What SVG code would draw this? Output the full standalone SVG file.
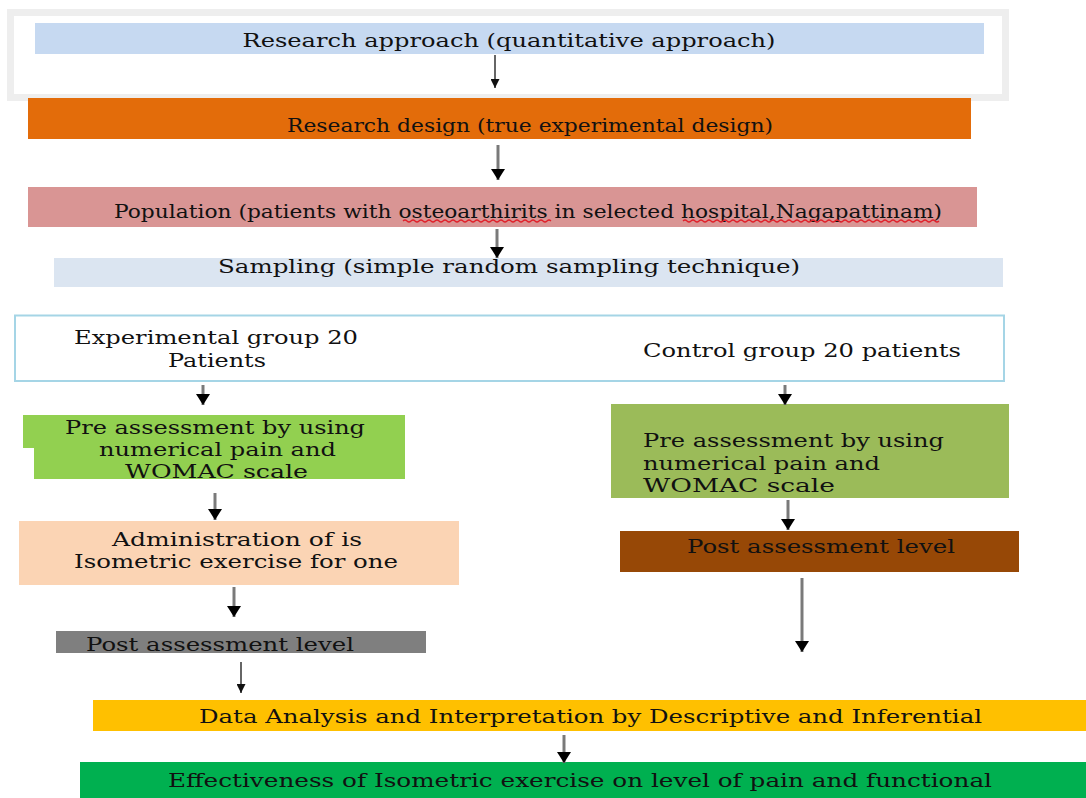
<svg xmlns="http://www.w3.org/2000/svg" width="1086" height="798" viewBox="0 0 1086 798">
<defs>
<style>
text{font-family:"DejaVu Serif","Liberation Serif",serif;font-size:19px;fill:#111}
.c{text-anchor:middle}
.sh{stroke:#7a7a7a;stroke-width:3;fill:none}
.th{stroke:#333;stroke-width:1.5;fill:none}
.wv{stroke:#e0202a;stroke-width:1.2;fill:none}
</style>
<marker id="hd" markerUnits="userSpaceOnUse" markerWidth="14" markerHeight="12" viewBox="0 0 14 12" refX="7" refY="11" orient="auto-start-reverse">
<path d="M0,0 L14,0 L7,11 Z" fill="#000" transform="rotate(-90 7 6) translate(0,0)"/>
</marker>
<marker id="hd2" markerUnits="userSpaceOnUse" markerWidth="10" markerHeight="9" viewBox="0 0 10 9" refX="9" refY="5" orient="auto">
<path d="M0,0.5 L9,5 L0,9.5 Z" fill="#111"/>
</marker>
<marker id="hd1" markerUnits="userSpaceOnUse" markerWidth="12" markerHeight="14" viewBox="0 0 12 14" refX="11" refY="7" orient="auto">
<path d="M0,0 L11,7 L0,14 Z" fill="#000"/>
</marker>
</defs>
<rect width="1086" height="798" fill="#fff"/>

<g id="frame"><rect x="10.5" y="12.5" width="995" height="85" fill="none" stroke="#eeeeee" stroke-width="7"/></g>

<g id="n-approach"><rect x="35" y="23" width="949" height="31" fill="#c6d9f1"/>
<text x="509" y="47" class="c" textLength="533" lengthAdjust="spacingAndGlyphs">Research approach (quantitative approach)</text></g>

<g id="n-design"><rect x="28" y="98" width="943" height="41" fill="#e36c0a"/>
<text x="530" y="132" class="c" textLength="486" lengthAdjust="spacingAndGlyphs">Research design (true experimental design)</text></g>

<g id="n-population"><rect x="28" y="187" width="949" height="40" fill="#d99594"/>
<text x="114" y="218" textLength="828" lengthAdjust="spacingAndGlyphs">Population (patients with osteoarthirits in selected hospital,Nagapattinam)</text>
<path class="wv" d="M403,221 q2,-2 4,0 t4,0 t4,0 t4,0 t4,0 t4,0 t4,0 t4,0 t4,0 t4,0 t4,0 t4,0 t4,0 t4,0 t4,0 t4,0 t4,0 t4,0 t4,0 t4,0 t4,0 t4,0 t4,0 t4,0 t4,0 t4,0 t4,0 t4,0 t4,0 t4,0 t4,0 t4,0 t4,0 t4,0 t4,0 t4,0 t4,0"/>
<path class="wv" d="M683,221 q2,-2 4,0 t4,0 t4,0 t4,0 t4,0 t4,0 t4,0 t4,0 t4,0 t4,0 t4,0 t4,0 t4,0 t4,0 t4,0 t4,0 t4,0 t4,0 t4,0 t4,0 t4,0 t4,0 t4,0 t4,0 t4,0 t4,0 t4,0 t4,0 t4,0 t4,0 t4,0 t4,0 t4,0 t4,0 t4,0 t4,0 t4,0 t4,0 t4,0 t4,0 t4,0 t4,0 t4,0 t4,0 t4,0 t4,0 t4,0 t4,0 t4,0 t4,0 t4,0 t4,0 t4,0 t4,0 t4,0 t4,0 t4,0 t4,0 t4,0 t4,0 t4,0 t4,0 t4,0 t4,0"/></g>

<g id="n-sampling"><rect x="54" y="258" width="949" height="29" fill="#dbe5f1"/>
<text x="218" y="273" textLength="582" lengthAdjust="spacingAndGlyphs">Sampling (simple random sampling technique)</text></g>

<g id="n-groups"><rect x="15" y="315.5" width="989" height="65.5" fill="#fff" stroke="#a5d5e6" stroke-width="2"/>
<text x="74" y="344" textLength="284" lengthAdjust="spacingAndGlyphs">Experimental group 20</text>
<text x="168" y="367" textLength="98" lengthAdjust="spacingAndGlyphs">Patients</text>
<text x="643" y="357" textLength="318" lengthAdjust="spacingAndGlyphs">Control group 20 patients</text></g>

<g id="n-pre-exp"><path d="M23,415 H405 V479 H34 V448 H23 Z" fill="#92d050"/>
<text x="65" y="434" textLength="300" lengthAdjust="spacingAndGlyphs">Pre assessment by using</text>
<text x="99" y="456" textLength="237" lengthAdjust="spacingAndGlyphs">numerical pain and</text>
<text x="125" y="478" textLength="183" lengthAdjust="spacingAndGlyphs">WOMAC scale</text></g>

<g id="n-pre-ctl"><rect x="611" y="404" width="398" height="94" fill="#9bbb59"/>
<text x="643" y="447" textLength="301" lengthAdjust="spacingAndGlyphs">Pre assessment by using</text>
<text x="643" y="470" textLength="237" lengthAdjust="spacingAndGlyphs">numerical pain and</text>
<text x="643" y="492" textLength="192" lengthAdjust="spacingAndGlyphs">WOMAC scale</text></g>

<g id="n-admin"><rect x="19" y="521" width="440" height="64" fill="#fbd4b4"/>
<text x="112" y="546" textLength="250" lengthAdjust="spacingAndGlyphs">Administration of is</text>
<text x="74" y="568" textLength="324" lengthAdjust="spacingAndGlyphs">Isometric exercise for one</text></g>

<g id="n-post-exp"><rect x="56" y="631" width="370" height="22" fill="#7f7f7f"/>
<text x="86" y="651" textLength="268" lengthAdjust="spacingAndGlyphs">Post assessment level</text></g>

<g id="n-post-ctl"><rect x="620" y="531" width="399" height="41" fill="#974806"/>
<text x="687" y="553" textLength="268" lengthAdjust="spacingAndGlyphs">Post assessment level</text></g>

<g id="n-analysis"><rect x="93" y="700" width="993" height="31" fill="#ffc000"/>
<text x="199" y="723" textLength="783" lengthAdjust="spacingAndGlyphs">Data Analysis and Interpretation by Descriptive and Inferential</text></g>

<g id="n-effect"><rect x="80" y="762" width="1006" height="36" fill="#00b050"/>
<text x="168" y="787" textLength="824" lengthAdjust="spacingAndGlyphs">Effectiveness of Isometric exercise on level of pain and functional</text></g>

<g id="connectors">
<line class="th" x1="495" y1="55" x2="495" y2="88" marker-end="url(#hd2)"/>
<line class="sh" x1="498" y1="145" x2="498" y2="180" marker-end="url(#hd1)"/>
<line class="sh" x1="497" y1="229" x2="497" y2="258" marker-end="url(#hd1)"/>
<line class="sh" x1="203" y1="385" x2="203" y2="405" marker-end="url(#hd1)"/>
<line class="sh" x1="785" y1="385" x2="785" y2="405" marker-end="url(#hd1)"/>
<line class="sh" x1="215" y1="493" x2="215" y2="520" marker-end="url(#hd1)"/>
<line class="sh" x1="788" y1="500" x2="788" y2="530" marker-end="url(#hd1)"/>
<line class="sh" x1="234" y1="587" x2="234" y2="617" marker-end="url(#hd1)"/>
<line class="sh" x1="802" y1="578" x2="802" y2="652" marker-end="url(#hd1)"/>
<line class="th" x1="241" y1="662" x2="241" y2="693" marker-end="url(#hd2)"/>
<line class="sh" x1="564" y1="735" x2="564" y2="763" marker-end="url(#hd1)"/>
</g>
</svg>
